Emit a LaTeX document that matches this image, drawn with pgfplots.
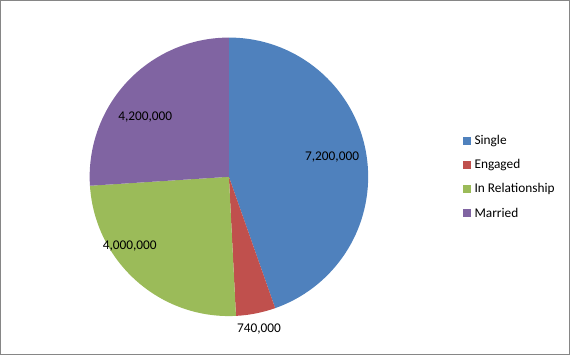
\documentclass[border=0pt]{standalone}
\usepackage{pgfplots}
\usepackage{pgfplotstable}
\pgfplotsset{compat=1.18}
\usepackage{fontspec}
\setmainfont{Carlito}
\definecolor{cSingle}{HTML}{4F81BD}
\definecolor{cEngaged}{HTML}{C0504D}
\definecolor{cRel}{HTML}{9BBB59}
\definecolor{cMarried}{HTML}{8064A2}
\definecolor{frame}{HTML}{868686}
% values in millions
\pgfplotstableread{
label value
Single 7.2
Engaged 0.74
Relationship 4.0
Married 4.2
}\datatable
\pgfplotstablegetelem{0}{value}\of\datatable \let\va\pgfplotsretval
\pgfplotstablegetelem{1}{value}\of\datatable \let\vb\pgfplotsretval
\pgfplotstablegetelem{2}{value}\of\datatable \let\vc\pgfplotsretval
\pgfplotstablegetelem{3}{value}\of\datatable \let\vd\pgfplotsretval
\pgfmathsetmacro\total{\va+\vb+\vc+\vd}
\pgfmathsetmacro\aA{90}
\pgfmathsetmacro\aB{\aA-360*\va/\total}
\pgfmathsetmacro\aC{\aB-360*\vb/\total}
\pgfmathsetmacro\aD{\aC-360*\vc/\total}
\pgfmathsetmacro\aE{\aD-360*\vd/\total}
\begin{document}
\fontsize{13.3}{16}\selectfont
\begin{tikzpicture}
\begin{axis}[
  width=570pt, height=355pt, scale only axis,
  xmin=0, xmax=570, ymin=0, ymax=355,
  hide axis, clip=false,
]
\draw[frame, line width=1pt] (axis cs:1,1) rectangle (axis cs:569,354);
\fill[cSingle] (axis cs:229,178) -- ++(\aA:139pt) arc[start angle=\aA, end angle=\aB, radius=139pt] -- cycle;
\fill[cEngaged] (axis cs:229,178) -- ++(\aB:139pt) arc[start angle=\aB, end angle=\aC, radius=139pt] -- cycle;
\fill[cRel] (axis cs:229,178) -- ++(\aC:139pt) arc[start angle=\aC, end angle=\aD, radius=139pt] -- cycle;
\fill[cMarried] (axis cs:229,178) -- ++(\aD:139pt) arc[start angle=\aD, end angle=\aE, radius=139pt] -- cycle;
\node at (axis cs:332,198) {7,200,000};
\node at (axis cs:259,26) {740,000};
\node at (axis cs:130,109) {4,000,000};
\node at (axis cs:145.5,238) {4,200,000};
% legend
\fill[cSingle] (axis cs:463,210) rectangle (axis cs:471,218);
\fill[cEngaged] (axis cs:463,186) rectangle (axis cs:471,194);
\fill[cRel] (axis cs:463,162) rectangle (axis cs:471,170);
\fill[cMarried] (axis cs:463,138) rectangle (axis cs:471,146);
\node[anchor=west, inner sep=0pt] at (axis cs:474,214) {Single};
\node[anchor=west, inner sep=0pt] at (axis cs:474,190) {Engaged};
\node[anchor=west, inner sep=0pt] at (axis cs:474,166) {In Relationship};
\node[anchor=west, inner sep=0pt] at (axis cs:474,142) {Married};
\end{axis}
\end{tikzpicture}
\end{document}
